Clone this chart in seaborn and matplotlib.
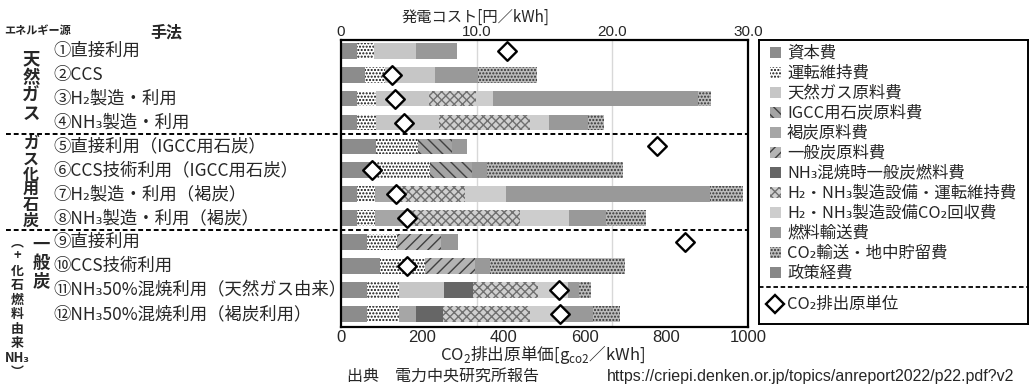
import numpy as np
import pandas as pd
import matplotlib.pyplot as plt
import matplotlib.transforms as mtransforms
from matplotlib.patches import Rectangle
import seaborn as sns

# rows (top to bottom)
methods = ["①直接利用", "②CCS", "③H₂製造・利用", "④NH₃製造・利用",
           "⑤直接利用（IGCC用石炭）", "⑥CCS技術利用（IGCC用石炭）",
           "⑦H₂製造・利用（褐炭）", "⑧NH₃製造・利用（褐炭）",
           "⑨直接利用", "⑩CCS技術利用",
           "⑪NH₃50%混焼利用（天然ガス由来）", "⑫NH₃50%混焼利用（褐炭利用）"]

components = ["資本費", "運転維持費", "天然ガス原料費", "IGCC用石炭原料費", "褐炭原料費",
              "一般炭原料費", "NH₃混焼時一般炭燃料費", "H₂・NH₃製造設備・運転維持費",
              "H₂・NH₃製造設備CO₂回収費", "燃料輸送費", "CO₂輸送・地中貯留費", "政策経費"]

# generation cost segments [円/kWh]
capital = [1.2, 1.8, 1.15, 1.15, 2.55, 2.2, 1.2, 1.2, 1.95, 2.9, 1.95, 1.95]
om = [1.2, 1.45, 1.4, 1.4, 3.1, 4.35, 1.3, 1.3, 2.2, 3.3, 2.3, 2.3]
ng_fuel = [3.1, 3.7, 3.9, 4.65, 0, 0, 0, 0, 0, 0, 3.35, 0]
igcc_coal = [0, 0, 0, 0, 2.55, 3.1, 0, 0, 0, 0, 0, 0]
lignite = [0, 0, 0, 0, 0, 0, 1.9, 2.35, 0, 0, 0, 1.25]
steam_coal = [0, 0, 0, 0, 0, 0, 0, 0, 3.25, 3.7, 0, 0]
nh3_cofire = [0, 0, 0, 0, 0, 0, 0, 0, 0, 0, 2.15, 2.05]
h2nh3_om = [0, 0, 3.5, 6.75, 0, 0, 4.75, 8.35, 0, 0, 4.8, 6.4]
h2nh3_ccs = [0, 0, 1.25, 1.4, 0, 0, 3.0, 3.6, 0, 0, 2.15, 2.45]
fuel_transport = [3.05, 3.15, 15.1, 2.85, 1.1, 1.1, 15.05, 2.75, 1.2, 1.05, 0.85, 2.2]
co2_storage = [0, 4.35, 1.0, 1.15, 0, 10.05, 2.4, 2.95, 0, 9.95, 0.85, 2.0]
policy = [0, 0, 0, 0, 0, 0, 0, 0, 0, 0, 0, 0]

# CO2 emission intensity [g/kWh]
co2 = [408, 126, 132, 156, 777, 75, 136, 161, 846, 163, 535, 539]

cost_ticks = [0, 10, 20, 30]
cost_labels = ["0", "10.0", "20.0", "30.0"]
co2_ticks = [0, 200, 400, 600, 800, 1000]

# face, hatch, hatch colour
styles = {
    "資本費": ("#8c8c8c", None, "#8c8c8c"),
    "運転維持費": ("#ffffff", ".....", "#111111"),
    "天然ガス原料費": ("#c6c6c6", None, "#c6c6c6"),
    "IGCC用石炭原料費": ("#a4a4a4", "\\\\\\", "#404040"),
    "褐炭原料費": ("#a6a6a6", None, "#a6a6a6"),
    "一般炭原料費": ("#b4b4b4", "///", "#404040"),
    "NH₃混焼時一般炭燃料費": ("#666666", None, "#666666"),
    "H₂・NH₃製造設備・運転維持費": ("#d0d0d0", "xxxx", "#707070"),
    "H₂・NH₃製造設備CO₂回収費": ("#cdcdcd", None, "#cdcdcd"),
    "燃料輸送費": ("#999999", None, "#999999"),
    "CO₂輸送・地中貯留費": ("#bcbcbc", ".....", "#333333"),
    "政策経費": ("#888888", None, "#888888"),
}

sns.set_style("white")
plt.rcParams['font.family'] = ['Noto Sans CJK JP', 'DejaVu Sans']
plt.rcParams['hatch.linewidth'] = 1.0

W, H = 1030, 386
fig = plt.figure(figsize=(W / 100, H / 100), dpi=100)


def fx(x):
    return x / W


def fy(y):
    return 1 - y / H


ax = fig.add_axes([fx(341), fy(327), (748 - 341) / W, (327 - 40) / H])
ax2 = ax.twiny()

series = [capital, om, ng_fuel, igcc_coal, lignite, steam_coal, nh3_cofire,
          h2nh3_om, h2nh3_ccs, fuel_transport, co2_storage, policy]
df = pd.DataFrame(dict(zip(components, series)), index=methods)
cum = df.cumsum(axis=1)

# stacked bars: draw running totals from the longest down
for comp in reversed(components):
    face, hatch, hc = styles[comp]
    sns.barplot(x=cum[comp].values, y=methods, orient="h", color=face,
                saturation=1, width=0.66, hatch=hatch, edgecolor=hc,
                linewidth=0, errorbar=None, ax=ax)

sns.scatterplot(x=co2, y=np.arange(len(methods)), marker="D", s=90,
                color="white", edgecolor="black", linewidth=1.7,
                ax=ax2, zorder=5, clip_on=False)

for v in [10, 20]:
    ax.axvline(v, color="#d8d8d8", lw=1, zorder=0.5)

ax.set_xlim(0, 30)
ax2.set_xlim(0, 1000)
ax.set_ylim(11.55, -0.45)
ax.set_yticks([])
ax.set_xlabel("")
ax.set_ylabel("")
ax2.set_xlabel("")
ax2.set_ylabel("")

ax.xaxis.set_ticks_position("top")
ax.set_xticks(cost_ticks)
ax.set_xticklabels(cost_labels, fontsize=11, family=["Liberation Sans"])
ax.tick_params(axis="x", length=0, pad=1)
ax2.xaxis.set_ticks_position("bottom")
ax2.set_xticks(co2_ticks)
ax2.set_xticklabels([str(t) for t in co2_ticks], fontsize=12, family=["Liberation Sans"])
ax2.tick_params(axis="x", length=0, pad=2)
for s in ax.spines.values():
    s.set_linewidth(1.6)
    s.set_color("black")
for s in ax2.spines.values():
    s.set_visible(False)

# row labels and separators
trans = mtransforms.blended_transform_factory(fig.transFigure, ax.transData)
for i, m in enumerate(methods):
    ax.text(fx(53), i, m, transform=trans, ha="left", va="center", fontsize=12.5)
for yy in [3.5, 7.5]:
    ax.plot([fx(6), fx(748)], [yy, yy], transform=trans, color="black",
            lw=1.4, ls=(0, (2.5, 1.5)), clip_on=False, zorder=6)

# group labels
ax.text(fx(31), 1.5, "\n".join("天然ガス"), transform=trans, ha="center",
        va="center", fontsize=12.5, fontweight="bold", linespacing=1.0)
ax.text(fx(31), 5.5, "\n".join("ガス化用石炭"), transform=trans, ha="center",
        va="center", fontsize=11.5, fontweight="bold", linespacing=0.95)
fig.text(fx(41), fy(263), "\n".join("一般炭"), ha="center", va="center",
         fontsize=12.5, fontweight="bold", linespacing=1.0)
fig.text(fx(17), fy(307), "︵\n+\n化\n石\n燃\n料\n由\n来\nNH₃\n︶", ha="center",
         va="center", fontsize=9.3, fontweight="bold", linespacing=1.04)

fig.text(fx(4), fy(30), "エネルギー源", ha="left", va="center", fontsize=8, fontweight="bold")
fig.text(fx(150), fy(32), "手法", ha="left", va="center", fontsize=11.5, fontweight="bold")

fig.text(fx(476), fy(17), "発電コスト[円／kWh]", ha="center", va="center", fontsize=11)
fig.text(fx(543), fy(355),
         "CO$_{\\mathregular{2}}$排出原単価[g$_{\\mathregular{co2}}$／kWh]",
         ha="center", va="center", fontsize=12)
fig.text(fx(347), fy(376), "出典　電力中央研究所報告", ha="left", va="center", fontsize=11.5)
fig.text(fx(607), fy(376), "https://criepi.denken.or.jp/topics/anreport2022/p22.pdf?v2",
         ha="left", va="center", fontsize=11.5, family=["Liberation Sans"])

# legend box
lax = fig.add_axes([fx(759), fy(324), (1028 - 759) / W, (324 - 40) / H])
lax.set_xlim(759, 1028)
lax.set_ylim(324, 40)
lax.set_xticks([])
lax.set_yticks([])
for s in lax.spines.values():
    s.set_linewidth(1.4)
    s.set_color("black")
for i, comp in enumerate(components):
    face, hatch, hc = styles[comp]
    yc = 52.7 + 20 * i
    lax.add_patch(Rectangle((770, yc - 5.5), 11, 11, facecolor=face, hatch=hatch,
                            edgecolor=hc, linewidth=0))
    lax.text(787, yc, comp, ha="left", va="center", fontsize=11.8)
lax.plot([759, 1028], [287, 287], color="black", lw=1.3, ls=(0, (2.5, 1.5)))
lax.plot([775], [304], marker="D", ms=9, mfc="white", mec="black", mew=1.7)
lax.text(787, 304, "CO₂排出原単位", ha="left", va="center", fontsize=11.8)

fig.savefig("out.png", dpi=100)
